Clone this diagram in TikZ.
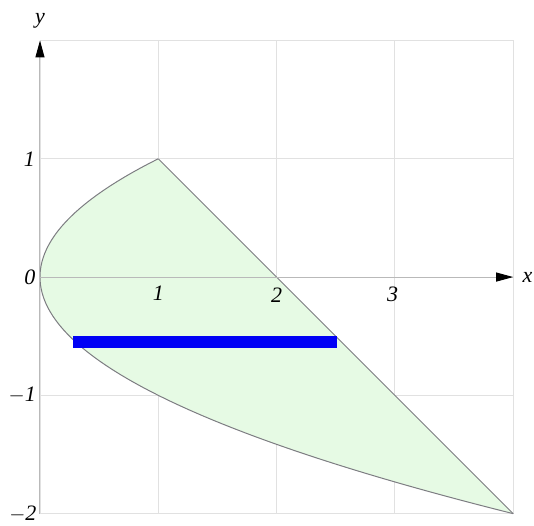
\documentclass[tikz,border=0pt]{standalone}
\usepackage{fontspec}
\setmainfont{Liberation Serif}
\usetikzlibrary{arrows.meta}
\definecolor{gridc}{RGB}{225,225,225}
\definecolor{axisc}{RGB}{185,185,185}
\definecolor{curvec}{RGB}{125,125,130}
\definecolor{fillc}{RGB}{230,250,228}
\definecolor{barc}{RGB}{0,0,245}
\begin{document}
\begin{tikzpicture}[x=118.3pt,y=118.3pt,
  lbl/.style={font=\fontsize{22}{26}\selectfont\itshape, inner sep=0pt},
  axisline/.style={draw=axisc, line width=1pt, -{Triangle[length=17pt,width=9pt,color=black]}}]
\useasboundingbox (-0.338,-2.096) rectangle (4.176,2.342);
% grid
\draw[gridc, line width=0.8pt, step=118.3pt] (0,-2) grid (4,2);
% region
\fill[fillc] plot[domain=-2:1, samples=80, variable=\t] ({\t*\t},{\t}) -- cycle;
\draw[curvec, line width=1pt] plot[domain=-2:1, samples=80, variable=\t] ({\t*\t},{\t});
\draw[curvec, line width=1pt] (1,1) -- (4,-2);
% axes
\coordinate (xs) at (0,0);
\coordinate (xe) at (4,0);
\coordinate (ys) at (0,-2);
\coordinate (ye) at (0,2);
\draw[axisline] (xs) -- (xe);
\draw[axisline] (ys) -- (ye);
% bar
\fill[barc] (0.28,-0.5) rectangle (2.51,-0.6);
% labels
\node[lbl] (lx) at (4.12,0) {x};
\node[lbl] (ly) at (0,2.17) {y};
\node[lbl] (l0) at (-0.085,0) {0};
\node[lbl] (lx1) at (1,-0.14) {1};
\node[lbl] (lx2) at (2,-0.15) {2};
\node[lbl] (lx3) at (2.98,-0.15) {3};
\node[lbl] (ly1) at (-0.09,1) {1};
\node[lbl] (lym1) at (-0.15,-1) {$-$1};
\node[lbl] (lym2) at (-0.145,-2) {$-$2};
\end{tikzpicture}
\end{document}
